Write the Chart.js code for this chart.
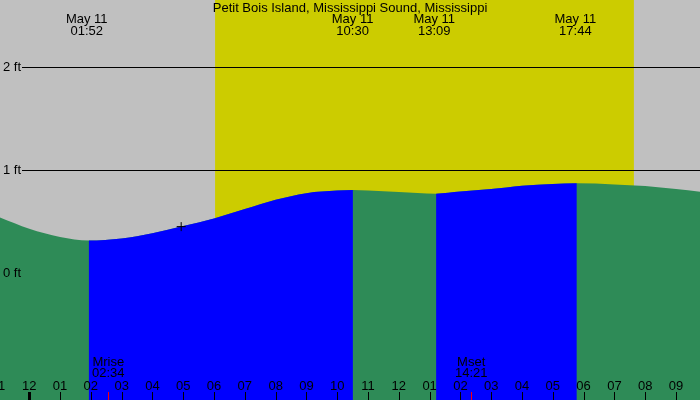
<!DOCTYPE html>
<html>
<head>
<meta charset="utf-8">
<script src="https://cdn.jsdelivr.net/npm/chart.js@4/dist/chart.umd.min.js"></script>
<style>
html, body { margin: 0; padding: 0; background: #c0c0c0; }
#wrap { width: 700px; height: 400px; position: relative; }
</style>
</head>
<body>
<div id="wrap"><canvas id="tideChart"></canvas></div>
<script>
const stationName = 'Petit Bois Island, Mississippi Sound, Mississippi';
const dayLabel = 'May 11';

// tide height (ft), hours after midnight May 11
const tideHours = [-1, 0, 1, 1.93, 3, 4, 5, 6, 7, 8, 9, 10, 10.51, 11, 12, 13.21, 14, 15, 16, 17, 17.78, 19, 20, 21, 22];
const tideFeet = [0.545, 0.43, 0.35, 0.315, 0.335, 0.385, 0.455, 0.53, 0.62, 0.71, 0.775, 0.80, 0.806, 0.80, 0.786, 0.77, 0.79, 0.815, 0.848, 0.864, 0.87, 0.86, 0.845, 0.815, 0.78];

// lows and highs printed at the top
const extremeTimes = ['01:52', '10:30', '13:09', '17:44'];

const sunTimes = ['06:02', '19:38'];

const moonNames = ['Mrise', 'Mset'];
const moonTimes = ['02:34', '14:21'];

const hourTicks = [-1, 0, 1, 2, 3, 4, 5, 6, 7, 8, 9, 10, 11, 12, 13, 14, 15, 16, 17, 18, 19, 20, 21];
const hourLabels = ['11', '12', '01', '02', '03', '04', '05', '06', '07', '08', '09', '10', '11', '12', '01', '02', '03', '04', '05', '06', '07', '08', '09'];

const feetTicks = [0, 1, 2];
const feetLabels = ['0 ft', '1 ft', '2 ft'];

const nowTime = '04:56';
const nowFeet = 0.45;

const toHours = s => {
    const [h, m] = s.split(':').map(Number);
    return h + m / 60;
};

const FONT = '13px "Liberation Sans", Arial, sans-serif';

// Background, day band, grid lines and all the text
const tideDecor = {
    id: 'tideDecor',
    beforeDraw(chart) {
        const { ctx, width, height, scales: { x, y } } = chart;
        ctx.save();
        ctx.fillStyle = '#c0c0c0';
        ctx.fillRect(0, 0, width, height);

        const x0 = x.getPixelForValue(toHours(sunTimes[0]));
        const x1 = x.getPixelForValue(toHours(sunTimes[1]));
        ctx.fillStyle = '#cccc00';
        ctx.fillRect(x0, 0, x1 - x0, height);

        // the 0 ft line sits under the water, so only lines above it
        ctx.strokeStyle = '#000';
        ctx.lineWidth = 1;
        feetTicks.filter(v => v > 0).forEach(v => {
            const yy = Math.round(y.getPixelForValue(v)) + 0.5;
            ctx.beginPath();
            ctx.moveTo(22, yy);
            ctx.lineTo(width, yy);
            ctx.stroke();
        });
        ctx.restore();
    },
    afterDatasetsDraw(chart) {
        const { ctx, width, height, scales: { x, y } } = chart;
        ctx.save();
        ctx.font = FONT;
        ctx.fillStyle = '#000';
        ctx.textBaseline = 'middle';

        // y labels
        ctx.textAlign = 'left';
        feetTicks.forEach((v, i) => {
            ctx.fillText(feetLabels[i], 3, y.getPixelForValue(v));
        });

        // title and high/low times
        ctx.textAlign = 'center';
        ctx.fillText(stationName, width / 2, 8);
        extremeTimes.forEach(t => {
            const px = x.getPixelForValue(toHours(t));
            ctx.fillText(dayLabel, px, 19.5);
            ctx.fillText(t, px, 31.5);
        });

        // moon rise / set
        moonTimes.forEach((t, i) => {
            const px = x.getPixelForValue(toHours(t));
            ctx.fillStyle = '#000';
            ctx.fillText(moonNames[i], px, 362);
            ctx.fillText(t, px, 373.5);
            ctx.fillStyle = '#ff0000';
            ctx.fillRect(Math.round(px), height - 8, 1, 8);
        });

        // hour axis
        ctx.fillStyle = '#000';
        hourTicks.forEach((h, i) => {
            const px = x.getPixelForValue(h);
            ctx.fillText(hourLabels[i], px, 386);
            const w = h === 0 ? 3 : 1;
            ctx.fillRect(Math.round(px) - (w > 1 ? 1 : 0), height - 8, w, 8);
        });
        ctx.restore();
    }
};

const rising = c => c.p1.parsed.y > c.p0.parsed.y;
const tidePoints = () => tideHours.map((h, i) => ({ x: h, y: tideFeet[i] }));

const initializeChart = () => {
    const ctx = document.getElementById('tideChart');
    return new Chart(ctx.getContext('2d'), {
        type: 'line',
        data: {
            datasets: [{
                type: 'scatter',
                data: [{ x: toHours(nowTime), y: nowFeet }],
                pointStyle: 'cross',
                pointRadius: 4.5,
                borderColor: '#000',
                borderWidth: 1,
                order: 0
            }, {
                // rising water in blue, laid over the green
                data: tidePoints(),
                fill: 'start',
                borderWidth: 0,
                borderColor: 'rgba(0,0,0,0)',
                pointRadius: 0,
                cubicInterpolationMode: 'monotone',
                backgroundColor: 'rgba(0,0,0,0)',
                segment: {
                    backgroundColor: c => rising(c) ? '#0000ff' : 'rgba(0,0,0,0)'
                },
                order: 1
            }, {
                data: tidePoints(),
                fill: 'start',
                borderWidth: 0,
                borderColor: 'rgba(0,0,0,0)',
                pointRadius: 0,
                cubicInterpolationMode: 'monotone',
                backgroundColor: '#2e8b57',
                order: 2
            }]
        },
        options: {
            responsive: true,
            maintainAspectRatio: false,
            animation: false,
            events: [],
            layout: { padding: 0, autoPadding: false },
            scales: {
                x: { type: 'linear', display: false, min: -0.95, max: 21.78 },
                y: { display: false, min: -1.233, max: 2.65 }
            },
            plugins: {
                legend: { display: false },
                tooltip: { enabled: false }
            }
        },
        plugins: [tideDecor]
    });
};

document.addEventListener('DOMContentLoaded', () => {
    initializeChart();
});
</script>
</body>
</html>
